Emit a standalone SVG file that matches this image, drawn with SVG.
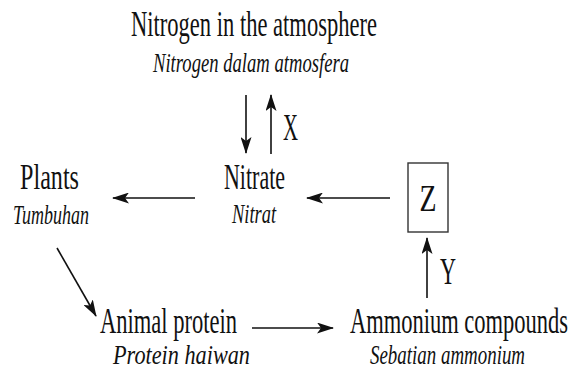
<svg xmlns="http://www.w3.org/2000/svg" width="573" height="375" viewBox="0 0 573 375">
<style>
.m{font-family:"Liberation Serif","Times New Roman",serif;font-size:36px;fill:#111}
.i{font-family:"Liberation Serif","Times New Roman",serif;font-size:28px;font-style:italic;fill:#111}
.l{font-family:"Liberation Serif","Times New Roman",serif;font-size:38px;fill:#111}
.c{stroke:#111;stroke-width:1.6;fill:none}
</style>
<defs>
<marker id="ah" viewBox="0 0 17 11" refX="16" refY="5.5" markerWidth="17" markerHeight="11" markerUnits="userSpaceOnUse" orient="auto">
<path d="M0,0 L17,5.5 L0,11 L4,5.5 Z" fill="#111"/>
</marker>
</defs>
<rect width="573" height="375" fill="#fff"/>
<g id="atmosphere">
<text class="m" x="131" y="36" textLength="246" lengthAdjust="spacingAndGlyphs">Nitrogen in the atmosphere</text>
<text class="i" x="153" y="72" textLength="196" lengthAdjust="spacingAndGlyphs">Nitrogen dalam atmosfera</text>
</g>
<g id="nitrate">
<text class="m" x="224" y="189" textLength="61" lengthAdjust="spacingAndGlyphs">Nitrate</text>
<text class="i" x="232" y="223" textLength="44" lengthAdjust="spacingAndGlyphs">Nitrat</text>
</g>
<g id="plants">
<text class="m" x="20" y="189" textLength="59" lengthAdjust="spacingAndGlyphs">Plants</text>
<text class="i" x="13" y="224" textLength="76" lengthAdjust="spacingAndGlyphs">Tumbuhan</text>
</g>
<g id="animal">
<text class="m" x="100" y="333" textLength="137" lengthAdjust="spacingAndGlyphs">Animal protein</text>
<text class="i" x="113" y="364" textLength="137" lengthAdjust="spacingAndGlyphs">Protein haiwan</text>
</g>
<g id="ammonium">
<text class="m" transform="translate(350,333) scale(0.625,1)" x="0" y="0" textLength="349" lengthAdjust="spacingAndGlyphs">Ammonium compounds</text>
<text class="i" transform="translate(370,364) scale(0.677,1)" x="0" y="0" textLength="229" lengthAdjust="spacingAndGlyphs">Sebatian ammonium</text>
</g>
<g id="z">
<rect x="408" y="163" width="40" height="69" fill="none" stroke="#333" stroke-width="1.4"/>
<text class="l" x="428" y="211" text-anchor="middle" textLength="17" lengthAdjust="spacingAndGlyphs">Z</text>
</g>
<g id="connectors">
<line class="c" x1="246" y1="95" x2="246" y2="153" marker-end="url(#ah)"/>
<line class="c" x1="271" y1="154" x2="271" y2="95" marker-end="url(#ah)"/>
<text class="l" x="283" y="140" textLength="15" lengthAdjust="spacingAndGlyphs">X</text>
<line class="c" x1="195" y1="198" x2="113" y2="198" marker-end="url(#ah)"/>
<line class="c" x1="390" y1="198" x2="307" y2="198" marker-end="url(#ah)"/>
<line class="c" x1="57" y1="248" x2="96" y2="316" marker-end="url(#ah)"/>
<line class="c" x1="252" y1="328" x2="333" y2="328" marker-end="url(#ah)"/>
<line class="c" x1="427" y1="298" x2="427" y2="238" marker-end="url(#ah)"/>
<text class="l" x="440" y="284" textLength="16" lengthAdjust="spacingAndGlyphs">Y</text>
</g>
</svg>
